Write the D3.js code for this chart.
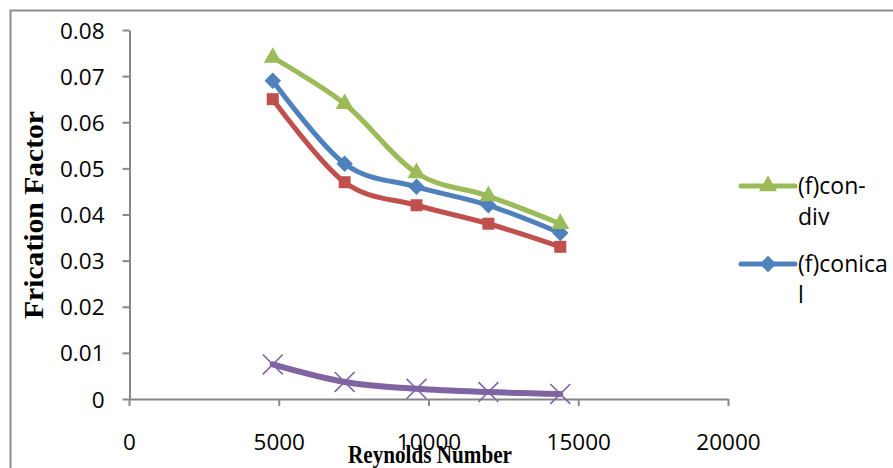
<!DOCTYPE html>
<html>
<head>
<meta charset="utf-8">
<script src="https://cdn.jsdelivr.net/npm/d3@7"></script>
<style>
  html, body { margin: 0; padding: 0; background: #fff; }
  svg { display: block; }
</style>
</head>
<body>
<svg id="chart" width="893" height="468"></svg>
<script>
// ---- data ----
const reynolds = [4800, 7200, 9600, 12000, 14400];
const fConDiv   = [0.074, 0.064, 0.049, 0.044, 0.038];
const fConical  = [0.069, 0.051, 0.046, 0.042, 0.036];
const fRed      = [0.065, 0.047, 0.042, 0.038, 0.033];
const fPurple   = [0.0075, 0.0037, 0.0022, 0.0015, 0.0011];
const xTicks = [0, 5000, 10000, 15000, 20000];
const yTicks = [0, 0.01, 0.02, 0.03, 0.04, 0.05, 0.06, 0.07, 0.08];
const legendNames = [["(f)con-", "div"], ["(f)conica", "l"]];

const series = [
  { values: fRed,     color: "#C0504D", marker: "square" },
  { values: fConical, color: "#4F81BD", marker: "diamond" },
  { values: fConDiv,  color: "#9BBB59", marker: "triangle" },
  { values: fPurple,  color: "#8064A2", marker: "x" }
];

const svg = d3.select("#chart");
const axisColor = "#878787";

// outer frame (clipped at right and bottom)
svg.append("path")
  .attr("d", "M10.5,900 L10.5,10.5 L900,10.5")
  .attr("fill", "none").attr("stroke", "#8c8c8c").attr("stroke-width", 2);

const x = d3.scaleLinear().domain([0, 20000]).range([129, 728]);
const y = d3.scaleLinear().domain([0, 0.08]).range([399, 30]);

// y axis
const yAxis = svg.append("g").attr("transform", "translate(129.5,0)")
  .call(d3.axisLeft(y).tickValues(yTicks).tickSize(7).tickSizeOuter(0)
    .tickFormat(d => d === 0 ? "0" : d3.format(".2f")(d)));
yAxis.select(".domain").attr("stroke", axisColor).attr("stroke-width", 2);
yAxis.selectAll(".tick line").attr("stroke", axisColor).attr("stroke-width", 2);
yAxis.selectAll(".tick text")
  .attr("x", -25).attr("dy", "0.36em")
  .attr("fill", "#000")
  .style("font-family", "'Open Sans', sans-serif").style("font-size", "22.5px");

// x axis
const xAxis = svg.append("g").attr("transform", "translate(0,399)")
  .call(d3.axisBottom(x).tickValues(xTicks).tickSize(7).tickSizeOuter(0)
    .tickFormat(d3.format("d")));
xAxis.select(".domain").attr("stroke", axisColor).attr("stroke-width", 2);
xAxis.selectAll(".tick line").attr("stroke", axisColor).attr("stroke-width", 2);
xAxis.selectAll(".tick text")
  .attr("y", 51).attr("dy", 0)
  .attr("fill", "#000")
  .style("font-family", "'Open Sans', sans-serif").style("font-size", "22.5px");

// axis titles
svg.append("text")
  .attr("x", 430).attr("y", 463)
  .attr("text-anchor", "middle")
  .attr("textLength", 164).attr("lengthAdjust", "spacingAndGlyphs")
  .style("font-family", "'Liberation Serif', 'Times New Roman', serif")
  .style("font-weight", "bold").style("font-size", "25px")
  .text("Reynolds Number");

svg.append("text")
  .attr("transform", "translate(43,215) rotate(-90)")
  .attr("text-anchor", "middle")
  .attr("textLength", 208).attr("lengthAdjust", "spacingAndGlyphs")
  .style("font-family", "'Liberation Serif', 'Times New Roman', serif")
  .style("font-weight", "bold").style("font-size", "27px")
  .text("Frication Factor");

// lines
const line = d3.line()
  .x((d, i) => x(reynolds[i]))
  .y(d => y(d))
  .curve(d3.curveCatmullRom.alpha(0));

function drawMarker(g, type, color, cx, cy) {
  if (type === "square") {
    g.append("rect").attr("x", cx - 6).attr("y", cy - 6)
      .attr("width", 12).attr("height", 12).attr("fill", color);
  } else if (type === "diamond") {
    g.append("path").attr("d", d3.symbol(d3.symbolSquare, 135)())
      .attr("transform", `translate(${cx},${cy}) rotate(45)`).attr("fill", color);
  } else if (type === "triangle") {
    g.append("path").attr("d", d3.symbol(d3.symbolTriangle, 140)())
      .attr("transform", `translate(${cx},${cy})`).attr("fill", color);
  } else if (type === "x") {
    g.append("path").attr("d", d3.symbol(d3.symbolX, 260)())
      .attr("transform", `translate(${cx},${cy})`)
      .attr("fill", "none").attr("stroke", color).attr("stroke-width", 1.6);
  }
}

series.forEach(s => {
  const g = svg.append("g");
  g.append("path").datum(s.values)
    .attr("d", line)
    .attr("fill", "none")
    .attr("stroke", s.color)
    .attr("stroke-width", s.marker === "x" ? 6 : 5)
    .attr("stroke-linecap", "round")
    .attr("stroke-linejoin", "round");
  s.values.forEach((v, i) => drawMarker(g, s.marker, s.color, x(reynolds[i]), y(v)));
});

// legend (two entries shown)
const legendSeries = [series[2], series[1]];
const legendY = [186, 264];
legendSeries.forEach((s, k) => {
  const g = svg.append("g");
  const ly = legendY[k];
  g.append("line").attr("x1", 741).attr("x2", 795).attr("y1", ly).attr("y2", ly)
    .attr("stroke", s.color).attr("stroke-width", 5).attr("stroke-linecap", "round");
  drawMarker(g, s.marker, s.color, 768, ly);
  const t = g.append("text")
    .style("font-family", "'Open Sans', sans-serif").style("font-size", "23px")
    .attr("fill", "#000");
  legendNames[k].forEach((ln, j) => {
    t.append("tspan").attr("x", 798).attr("y", ly + 8 + j * 31).text(ln);
  });
});
</script>
</body>
</html>
